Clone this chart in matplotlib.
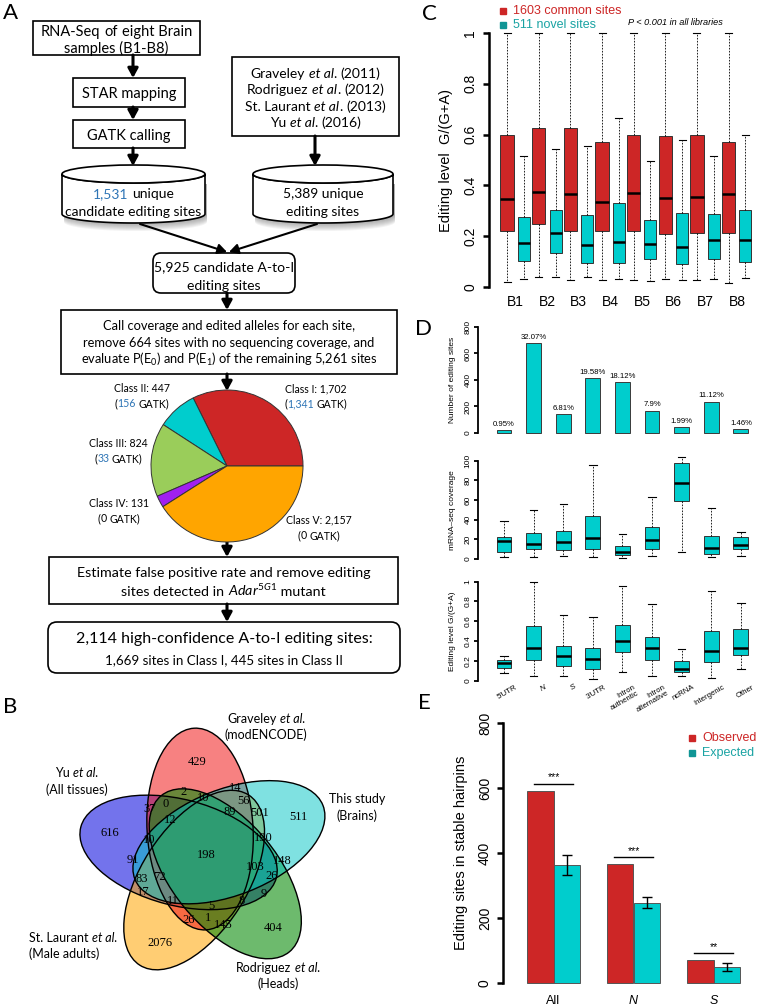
import numpy as np
import matplotlib
matplotlib.use('Agg')
import matplotlib.pyplot as plt
from matplotlib.patches import FancyBboxPatch, Rectangle, Ellipse, Polygon

plt.rcParams['mathtext.fontset'] = 'custom'
plt.rcParams['mathtext.rm'] = 'Lato'
plt.rcParams['mathtext.it'] = 'Lato:italic'
plt.rcParams['mathtext.bf'] = 'Lato:bold'
plt.rcParams['mathtext.default'] = 'regular'

# ---------------- data ----------------
pie_classes = ['Class I', 'Class II', 'Class III', 'Class IV', 'Class V']
pie_sites = [1702, 447, 824, 131, 2157]
pie_gatk = [1341, 156, 33, 0, 0]
pie_colors = ['#CD2626', '#00CDCD', '#9ACD5A', '#A020F0', '#FFA500']

n_rnaseq_sites = '1,531'
n_known_sites = '5,389'
n_candidates = '5,925'
n_removed = '664'
n_remaining = '5,261'
n_final = '2,114'
n_final_class1 = '1,669'
n_final_class2 = '445'
studies = [('Graveley', '(2011)'), ('Rodriguez', '(2012)'), ('St. Laurant', '(2013)'), ('Yu', '(2016)')]

venn_names = [('Graveley', '(modENCODE)'), ('This study', '(Brains)'), ('Rodriguez', '(Heads)'),
              ('St. Laurant', '(Male adults)'), ('Yu', '(All tissues)')]
venn_counts = [429, 511, 404, 2076, 616, 198, 2, 14, 10, 37, 0, 56, 89, 501, 12, 10, 190,
               91, 103, 148, 26, 83, 72, 17, 11, 9, 5, 8, 26, 1, 145]

libs = ['B1', 'B2', 'B3', 'B4', 'B5', 'B6', 'B7', 'B8']
common_q1 = [0.221, 0.247, 0.221, 0.221, 0.221, 0.210, 0.213, 0.214]
common_med = [0.345, 0.375, 0.368, 0.333, 0.372, 0.349, 0.355, 0.368]
common_q3 = [0.599, 0.625, 0.625, 0.570, 0.599, 0.595, 0.599, 0.570]
common_lo = [0.020, 0.040, 0.026, 0.026, 0.026, 0.033, 0.029, 0.016]
common_hi = [1.0, 1.0, 1.0, 1.0, 1.0, 1.0, 1.0, 1.0]
novel_q1 = [0.103, 0.134, 0.096, 0.095, 0.109, 0.089, 0.109, 0.099]
novel_med = [0.174, 0.213, 0.164, 0.176, 0.171, 0.158, 0.184, 0.187]
novel_q3 = [0.276, 0.305, 0.283, 0.332, 0.263, 0.293, 0.289, 0.305]
novel_lo = [0.033, 0.040, 0.040, 0.033, 0.022, 0.029, 0.033, 0.036]
novel_hi = [0.517, 0.543, 0.555, 0.664, 0.497, 0.579, 0.517, 0.599]

regions = ["5'UTR", 'N', 'S', "3'UTR", 'Intron\nauthentic', 'Intron\nalternative', 'ncRNA', 'Intergenic', 'Other']
site_counts = [20, 678, 144, 414, 383, 167, 42, 235, 31]
site_pct = ['0.95%', '32.07%', '6.81%', '19.58%', '18.12%', '7.9%', '1.99%', '11.12%', '1.46%']
cov_q1 = [6.8, 9.8, 9.2, 10.2, 4.1, 9.8, 58.6, 4.7, 10.2]
cov_med = [18.6, 15.6, 17.3, 21.7, 6.8, 19.0, 77.0, 11.2, 14.2]
cov_q3 = [22.7, 26.1, 28.5, 43.7, 13.2, 32.2, 97.3, 23.7, 22.7]
cov_lo = [1.7, 2.4, 3.0, 2.4, 1.4, 3.0, 6.8, 1.7, 2.7]
cov_hi = [38.6, 49.8, 55.6, 95.6, 25.4, 63.4, 104.0, 52.2, 27.8]
lvl_q1 = [0.130, 0.208, 0.151, 0.120, 0.288, 0.211, 0.094, 0.187, 0.264]
lvl_med = [0.184, 0.335, 0.251, 0.224, 0.402, 0.331, 0.120, 0.301, 0.335]
lvl_q3 = [0.214, 0.552, 0.355, 0.331, 0.559, 0.445, 0.201, 0.499, 0.526]
lvl_lo = [0.084, 0.047, 0.050, 0.023, 0.087, 0.050, 0.047, 0.027, 0.120]
lvl_hi = [0.251, 1.0, 0.659, 0.643, 0.958, 0.777, 0.318, 0.905, 0.787]

hp_groups = ['All', 'N', 'S']
hp_observed = [592, 366, 70]
hp_expected = [364, 246, 50]
hp_exp_lo = [332, 230, 38]
hp_exp_hi = [393, 264, 62]
hp_sig = ['***', '***', '**']

# ---------------- figure ----------------
W, H = 758, 1005
fig = plt.figure(figsize=(W / 100, H / 100), dpi=100)
base = fig.add_axes([0, 0, 1, 1])
base.set_xlim(0, W); base.set_ylim(H, 0); base.axis('off')
renderer = fig.canvas.get_renderer()

K = 'black'
BLUE = '#2E75B6'
RED = '#CD2626'
CYAN = '#00CDCD'
TEAL = '#1AA3A3'
FLOW = 'Lato'
RF = 'Liberation Sans'

_spc = {}
def sp_w(size, family):
    key = (size, family)
    if key not in _spc:
        t1 = base.text(0, 0, 'a a', fontsize=size, family=family)
        t2 = base.text(0, 0, 'aa', fontsize=size, family=family)
        _spc[key] = t1.get_window_extent(renderer).width - t2.get_window_extent(renderer).width
        t1.remove(); t2.remove()
    return _spc[key]

def rich(x, y, parts, size, family=FLOW, ha='center', z=6):
    yb = y + 0.36 * size * 100 / 72
    items = []
    for p in parts:
        if isinstance(p, str):
            p = (p, K, 'normal')
        s, c, st = p
        if s == ' ':
            items.append((None, sp_w(size, family)))
        else:
            t = base.text(0, yb, s, fontsize=size, color=c, family=family, style=st,
                          ha='left', va='baseline', zorder=z)
            items.append((t, t.get_window_extent(renderer).width))
    total = sum(w for _, w in items)
    x0 = x - total / 2 if ha == 'center' else (x - total if ha == 'right' else x)
    for t, w in items:
        if t is not None:
            t.set_x(x0)
        x0 += w

def rect(x0, y0, x1, y1, lw=1.2):
    base.add_patch(Rectangle((x0, y0), x1 - x0, y1 - y0, fc='white', ec='black', lw=lw, zorder=3))

def rbox(x0, y0, x1, y1, r=9, lw=1.2):
    base.add_patch(FancyBboxPatch((x0, y0), x1 - x0, y1 - y0, boxstyle=f'round,pad=0,rounding_size={r}',
                                  fc='white', ec='black', lw=lw, zorder=3))

def arrow(x0, y0, x1, y1, lw=2.2):
    base.annotate('', xy=(x1, y1), xytext=(x0, y0),
                  arrowprops=dict(arrowstyle='-|>,head_length=0.55,head_width=0.3', color='black',
                                  lw=lw, shrinkA=0, shrinkB=0), zorder=4)

def cylinder(x0, x1, ytop, ybot, ry):
    cx = (x0 + x1) / 2; rx = (x1 - x0) / 2
    t = np.linspace(0, np.pi, 60)
    bot = np.column_stack([cx - rx * np.cos(t), ybot + ry * np.sin(t)])
    for i in range(1, 9):
        sh = np.vstack([[x0 + 2, ytop + 10], bot + [2, i], [x1 + 2, ytop + 10]])
        base.add_patch(Polygon(sh, closed=True, fc='#555555', ec='none', alpha=0.07, zorder=2))
    front = np.column_stack([cx + rx * np.cos(t), ytop + ry * np.sin(t)])
    body = np.vstack([[x0, ytop], bot, [x1, ytop], front])
    base.add_patch(Polygon(body, closed=True, fc='white', ec='black', lw=1.2, zorder=3))
    base.add_patch(Ellipse((cx, ytop), 2 * rx, 2 * ry, fc='white', ec='black', lw=1.2, zorder=3))

# ---------------- Panel A: flowchart ----------------
base.text(3, 13, 'A', fontsize=16, family=FLOW, va='center', ha='left')

rect(33, 21, 200, 55)
rich(116.5, 31, ['RNA-Seq', ' ', 'of', ' ', 'eight Brain'], 10.5)
rich(116.5, 48, ['samples (B1-B8)'], 10.5)
arrow(133, 55, 133, 78)
rect(73, 78, 185, 107)
rich(129, 92.5, ['STAR mapping'], 10.5)
arrow(133, 107, 133, 120)
rect(73, 120, 185, 148)
rich(129, 134.5, ['GATK calling'], 10.5)
arrow(133, 148, 133, 166)

rect(232, 57, 399, 136)
for i, (nm, yr) in enumerate(studies):
    rich(315.5, 72.5 + 16.5 * i, [nm, ' ', ('et al', K, 'italic'), '.', ' ', yr], 10)
arrow(315, 136, 315, 166)

cylinder(62, 205, 174, 214, 9)
rich(133.5, 193, [(n_rnaseq_sites, BLUE, 'normal'), ' ', 'unique'], 10)
rich(133.5, 211, ['candidate editing sites'], 10)
cylinder(253, 393, 174, 214, 9)
rich(323, 193, [n_known_sites + ' unique'], 10)
rich(323, 211, ['editing sites'], 10)

arrow(140, 224, 227, 252, lw=1.5)
arrow(317, 224, 229, 252, lw=1.5)
rbox(153, 253, 295, 293, r=8)
rich(224, 266.5, [n_candidates + ' candidate A-to-I'], 10.1)
rich(224, 285, ['editing sites'], 10.1)
arrow(227, 293, 227, 310)

rect(61, 310, 397, 374)
rich(229, 325, ['Call coverage and edited alleles for each site,'], 9.3)
rich(229, 342, ['remove ' + n_removed + ' sites with no sequencing coverage, and'], 9.3)
rich(229, 359.5, ['evaluate P(E$_0$) and P(E$_1$) of the remaining ' + n_remaining + ' sites'], 9.3)
arrow(227, 374, 227, 391)

# pie
pcx, pcy, pr = 227, 466, 76
axp = fig.add_axes([(pcx - pr) / W, 1 - (pcy + pr) / H, 2 * pr / W, 2 * pr / H])
axp.pie(pie_sites, colors=pie_colors, startangle=0, counterclock=True,
        wedgeprops=dict(edgecolor='#333333', linewidth=0.7))
axp.set_xlim(-1, 1); axp.set_ylim(-1, 1); axp.axis('off')

pie_lab_pos = [(316, 388.5), (141.5, 388.5), (118.5, 443), (119, 503), (319, 520)]
for i in range(5):
    x, y = pie_lab_pos[i]
    rich(x, y, [f'{pie_classes[i]}: {pie_sites[i]:,}'], 7.6)
    gc = BLUE if pie_gatk[i] > 0 else K
    rich(x, y + 15, ['(', (f'{pie_gatk[i]:,}', gc, 'normal'), ' ', 'GATK)'], 7.6)

arrow(227, 542, 227, 557)
rect(49, 557, 398, 604)
rich(223.5, 572, ['Estimate false positive rate and remove editing'], 10.3)
rich(223.5, 591, ['sites detected in ', r'$\it{Adar}^{\it{5G1}}$', ' mutant'], 10.3)
arrow(227, 604, 227, 622)
rbox(48, 622, 400, 673, r=9)
rich(224, 637.5, [n_final + ' high-confidence A-to-I editing sites:'], 11.5)
rich(224, 659, [n_final_class1 + ' sites in Class I, ' + n_final_class2 + ' sites in Class II'], 9.6)

# ---------------- Panel B: Venn ----------------
base.text(3, 707, 'B', fontsize=16, family=FLOW, va='center', ha='left')
O = (205.4, 855.5)
v_r, v_a, v_b = 27, 101, 53
# k: 0 Graveley(red) 1 This study(cyan) 2 Rodriguez(green) 3 St. Laurant(orange) 4 Yu(blue)
venn_fc = ['#F21A1A', '#00C5C5', '#0C8C0C', '#FFA500', '#0000DD']
venn_alpha = [0.55, 0.5, 0.6, 0.55, 0.55]
draw_order = [4, 3, 0, 2, 1]
ells = {}
for k in range(5):
    th = np.deg2rad(101.4 - 72 * k)
    phi = 93.4 - 72 * k
    c = (O[0] + v_r * np.cos(th), O[1] - v_r * np.sin(th))
    ells[k] = (c, phi)
for k in draw_order:
    c, phi = ells[k]
    base.add_patch(Ellipse(c, 2 * v_a, 2 * v_b, angle=-phi, fc=venn_fc[k], alpha=venn_alpha[k],
                           ec='none', zorder=2))
for k in range(5):
    c, phi = ells[k]
    base.add_patch(Ellipse(c, 2 * v_a, 2 * v_b, angle=-phi, fc='none', ec='black', lw=1.0, zorder=3))

venn_pos = [(196.7, 761.7), (298.3, 816.7), (273.3, 928), (160, 943), (110, 833), (206.7, 855),
            (183.3, 791.7), (235, 788.3), (203.3, 798.3), (149.3, 809), (166, 804.3), (243.3, 801),
            (230, 812.3), (260, 813.3), (170, 820), (149.3, 840), (263.3, 838.3), (133.3, 860),
            (255.5, 867.0), (282.5, 861.0), (272, 875.5), (141.7, 879), (159.3, 876.7), (143.3, 891.7),
            (172.7, 901), (264, 894), (211.7, 905.7), (241.7, 901), (188.3, 920), (208.3, 918.3),
            (223.3, 925)]
for (x, y), n in zip(venn_pos, venn_counts):
    base.text(x, y, str(n), family='Liberation Serif', fontsize=9.0, ha='center', va='center', zorder=5)

name_pos = [((266, 718), (266, 734), 'center'), ((357, 798), (357, 815), 'center'),
            ((278, 967), (278, 983), 'center'), ((29, 937), (29, 953), 'left'),
            ((77, 772), (77, 789), 'center')]
for (nm, sub), (p1, p2, al) in zip(venn_names, name_pos):
    if nm == 'This study':
        rich(p1[0], p1[1], [nm], 9, ha=al)
    else:
        rich(p1[0], p1[1], [nm, ' ', ('et al.', K, 'italic')], 9, ha=al)
    rich(p2[0], p2[1], [sub], 9, ha=al)

# ---------------- helpers for R-style axes ----------------
def make_axes(xl, xr, xd1, xp1, xd2, xp2, yd1, yp1, yd2, yp2, pad_top, pad_bot):
    ppx = (xp2 - xp1) / (xd2 - xd1)
    ppy = (yp2 - yp1) / (yd1 - yd2)
    yt = yp1 - pad_top; yb = yp2 + pad_bot
    ax = fig.add_axes([xl / W, 1 - yb / H, (xr - xl) / W, (yb - yt) / H])
    ax.set_xlim(xd1 - (xp1 - xl) / ppx, xd2 + (xr - xp2) / ppx)
    ax.set_ylim(yd2 - pad_bot / ppy, yd1 + pad_top / ppy)
    ax.patch.set_alpha(0)
    for s in ['top', 'right', 'bottom']:
        ax.spines[s].set_visible(False)
    return ax

def style_y(ax, ticks, labels, lw, size, length, pad):
    ax.spines['left'].set_bounds(ticks[0], ticks[-1])
    ax.spines['left'].set_linewidth(lw)
    ax.set_yticks(ticks)
    ax.set_yticklabels(labels, rotation=90, va='center', fontsize=size, family=RF)
    ax.tick_params(axis='y', length=length, width=lw, pad=pad, direction='out')

def mkstats(q1, med, q3, lo, hi):
    return [dict(q1=a, med=b, q3=c, whislo=d, whishi=e, fliers=[]) for a, b, c, d, e in zip(q1, med, q3, lo, hi)]

def boxes(ax, st, pos, w, fc, capw, medlw=1.8):
    ax.bxp(st, positions=pos, widths=w, capwidths=capw, patch_artist=True, showfliers=False,
           boxprops=dict(facecolor=fc, edgecolor='#333333', linewidth=0.7),
           medianprops=dict(color='black', linewidth=medlw, solid_capstyle='butt'),
           whiskerprops=dict(color='black', linewidth=0.6, linestyle=(0, (2.0, 1.6))),
           capprops=dict(color='black', linewidth=0.8))

# ---------------- Panel C ----------------
base.text(422, 14, 'C', fontsize=16, family=FLOW, va='center', ha='left')
axc = make_axes(489, 758, 1, 515.5, 8, 737, 1, 33, 0, 287, 11, 5)
gx = np.arange(1, len(libs) + 1)
boxes(axc, mkstats(common_q1, common_med, common_q3, common_lo, common_hi), gx - 0.265, 0.42, RED, 0.22)
boxes(axc, mkstats(novel_q1, novel_med, novel_q3, novel_lo, novel_hi), gx + 0.265, 0.38, CYAN, 0.22)
style_y(axc, [0, 0.2, 0.4, 0.6, 0.8, 1.0], ['0', '0.2', '0.4', '0.6', '0.8', '1'], 1.8, 10, 4.5, 4)
axc.set_xticks(gx)
axc.set_xticklabels(libs, fontsize=10, family=RF)
axc.tick_params(axis='x', length=0, pad=2.5)
base.text(446, 160, 'Editing level  G/(G+A)', rotation=90, fontsize=10.5, family=RF, ha='center', va='center')
base.plot([503], [11], marker='s', ms=4.5, color=RED, ls='none')
base.text(513, 11, '1603 common sites', color=RED, fontsize=9, family=RF, va='center')
base.plot([503], [25], marker='s', ms=4.5, color='#109595', ls='none')
base.text(513, 25, '511 novel sites', color=TEAL, fontsize=9, family=RF, va='center')
base.text(628, 22, 'P < 0.001 in all libraries', style='italic', fontsize=6.6, family=RF, va='center')

# ---------------- Panel D ----------------
base.text(415, 329, 'D', fontsize=16, family=FLOW, va='center', ha='left')
dx = np.arange(1, len(regions) + 1)
axd1 = make_axes(478, 758, 1, 504, 9, 740.8, 800, 327, 0, 433, 10, 3)
axd1.bar(dx, site_counts, width=0.5, color=CYAN, edgecolor='#3a3a3a', linewidth=0.7)
for x, v, p in zip(dx, site_counts, site_pct):
    axd1.text(x, v + 18, p, ha='center', va='bottom', fontsize=5.6, family=RF)
style_y(axd1, [0, 200, 400, 600, 800], ['0', '200', '400', '600', '800'], 1.3, 6, 3, 1.5)
axd1.set_xticks([])
base.text(453, 380, 'Number of editing sites', rotation=90, fontsize=6, family=RF, ha='center', va='center')

axd2 = make_axes(478, 758, 1, 504, 9, 740.8, 100, 460.7, 0, 559, 8, 3)
boxes(axd2, mkstats(cov_q1, cov_med, cov_q3, cov_lo, cov_hi), dx, 0.5, CYAN, 0.25)
style_y(axd2, [0, 20, 40, 60, 80, 100], ['0', '20', '40', '60', '80', '100'], 1.3, 6, 3, 1.5)
axd2.set_xticks([])
base.text(453, 510, 'mRNA–seq coverage', rotation=90, fontsize=6, family=RF, ha='center', va='center')

axd3 = make_axes(478, 758, 1, 504, 9, 740.8, 1, 581.5, 0, 681, 5, 3)
boxes(axd3, mkstats(lvl_q1, lvl_med, lvl_q3, lvl_lo, lvl_hi), dx, 0.5, CYAN, 0.25)
style_y(axd3, [0, 0.2, 0.4, 0.6, 0.8, 1.0], ['0', '0.2', '0.4', '0.6', '0.8', '1'], 1.3, 6, 3, 1.5)
axd3.set_xticks([])
for x, lab in zip(dx, regions):
    st = 'italic' if lab in ('N', 'S') else 'normal'
    axd3.text(x + 0.37, -0.025, lab, rotation=30, rotation_mode='anchor', ha='right', va='top',
              fontsize=5.6, family=RF, style=st, clip_on=False, linespacing=1.0)
base.text(453, 631, 'Editing level G/(G+A)', rotation=90, fontsize=6, family=RF, ha='center', va='center')

# ---------------- Panel E ----------------
base.text(418, 703, 'E', fontsize=16, family=FLOW, va='center', ha='left')
ex = np.arange(1, len(hp_groups) + 1)
axe = make_axes(503, 758, 1, 553.5, 3, 713.5, 800, 723, 0, 983, 5, 2)
bw = 1 / 3
axe.bar(ex - bw / 2, hp_observed, width=bw, color=RED, edgecolor='#555555', linewidth=0.7)
yerr = [np.array(hp_expected) - np.array(hp_exp_lo), np.array(hp_exp_hi) - np.array(hp_expected)]
axe.bar(ex + bw / 2, hp_expected, width=bw, color=CYAN, edgecolor='#555555', linewidth=0.7,
        yerr=yerr, capsize=3.8, error_kw=dict(elinewidth=1.0, capthick=1.0, ecolor='black'))
sig_h = [613, 387, 91]
for x, s, h in zip(ex, hp_sig, sig_h):
    axe.plot([x - 0.24, x + 0.24], [h, h], color='black', lw=1.0)
    axe.text(x, h + 4, s, ha='center', va='bottom', fontsize=7.5, family=RF)
style_y(axe, [0, 200, 400, 600, 800], ['0', '200', '400', '600', '800'], 1.8, 10, 4.5, 3.5)
axe.set_xticks(ex)
axe.set_xticklabels(hp_groups, fontsize=9, family=RF)
for lab in axe.get_xticklabels()[1:]:
    lab.set_style('italic')
axe.tick_params(axis='x', length=0, pad=7)
base.text(461, 853, 'Editing sites in stable hairpins', rotation=90, fontsize=10.5, family=RF,
          ha='center', va='center')
base.plot([692], [738], marker='s', ms=4.5, color=RED, ls='none')
base.text(702, 738, 'Observed', color=RED, fontsize=9, family=RF, va='center')
base.plot([692], [753], marker='s', ms=4.5, color='#109595', ls='none')
base.text(702, 753, 'Expected', color=TEAL, fontsize=9, family=RF, va='center')

fig.savefig('out.png', dpi=100)
